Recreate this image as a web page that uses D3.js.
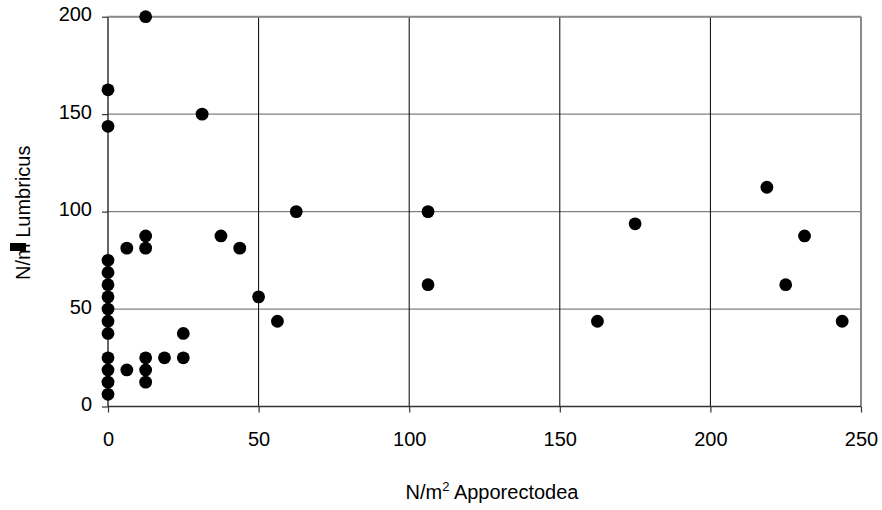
<!DOCTYPE html>
<html>
<head>
<meta charset="utf-8">
<script src="https://cdn.jsdelivr.net/npm/d3@7"></script>
<style>
  html, body { margin: 0; padding: 0; background: #fff; }
  svg { display: block; font-family: "Liberation Sans", Arial, sans-serif; }
</style>
</head>
<body>
<svg id="chart" width="882" height="510"></svg>
<script>
// Data: N/m² Apporectodea (x) vs N/m² Lumbricus (y)
const apporectodea = [
  0, 0, 0, 0, 0, 0, 0, 0, 0, 0, 0, 0, 0,
  6.25, 6.25,
  12.5, 12.5, 12.5, 12.5, 12.5, 12.5,
  18.75, 25, 25, 31.25, 37.5, 43.75, 50, 56.25, 62.5,
  106.25, 106.25, 162.5, 175, 218.75, 225, 231.25, 243.75
];
const lumbricus = [
  6.25, 12.5, 18.75, 25, 37.5, 43.75, 50, 56.25, 62.5, 68.75, 75, 143.75, 162.5,
  81.25, 18.75,
  200, 87.5, 81.25, 25, 18.75, 12.5,
  25, 37.5, 25, 150, 87.5, 81.25, 56.25, 43.75, 100,
  100, 62.5, 43.75, 93.75, 112.5, 62.5, 87.5, 43.75
];
const xTicks = [0, 50, 100, 150, 200, 250];
const yTicks = [0, 50, 100, 150, 200];
const xTitle = "N/m";
const xTitleSup = "2";
const xTitleRest = " Apporectodea";
const yTitle = "N/m";
const yTitleRest = " Lumbricus";

const svg = d3.select("#chart");
const x = d3.scaleLinear().domain([0, 250]).range([108, 861]);
const y = d3.scaleLinear().domain([0, 200]).range([406.5, 16.7]);

// horizontal gridlines (gray)
svg.append("g").selectAll("line").data(yTicks.filter(d => d > 0)).join("line")
  .attr("x1", x(0)).attr("x2", x(250))
  .attr("y1", d => y(d)).attr("y2", d => y(d))
  .attr("stroke", "#808080").attr("stroke-width", 1.3);

// vertical gridlines (black)
svg.append("g").selectAll("line").data(xTicks.filter(d => d > 0 && d < 250)).join("line")
  .attr("x1", d => x(d)).attr("x2", d => x(d))
  .attr("y1", y(0)).attr("y2", y(200))
  .attr("stroke", "#000").attr("stroke-width", 1);

// right border
svg.append("line")
  .attr("x1", x(250)).attr("x2", x(250)).attr("y1", y(0)).attr("y2", y(200))
  .attr("stroke", "#8a8a8a").attr("stroke-width", 2);

// axes
const xAxis = svg.append("g").attr("transform", `translate(0,${y(0)})`)
  .call(d3.axisBottom(x).tickValues(xTicks).tickSize(6).tickPadding(19).tickFormat(d3.format("d")));
const yAxis = svg.append("g").attr("transform", `translate(${x(0)},0)`)
  .call(d3.axisLeft(y).tickValues(yTicks).tickSize(6).tickPadding(10).tickFormat(d3.format("d")));

[xAxis, yAxis].forEach(g => {
  g.select(".domain").attr("stroke", "#333").attr("stroke-width", 1.5);
  g.selectAll(".tick line").attr("stroke", "#333").attr("stroke-width", 1.2);
  g.selectAll(".tick text").attr("font-size", 20).attr("fill", "#000")
    .attr("font-family", "'Liberation Sans', Arial, sans-serif");
});
yAxis.selectAll(".tick text").attr("dy", "0.2em");
yAxis.select(".domain").attr("d", `M0,${y(0)}V${y(200)}`);
xAxis.select(".domain").attr("d", `M${x(0)},0H${x(250)}`);

// top border (gray)
svg.append("line")
  .attr("x1", x(0)).attr("x2", x(250)).attr("y1", y(200)).attr("y2", y(200))
  .attr("stroke", "#8a8a8a").attr("stroke-width", 2);

// points
svg.append("g").selectAll("circle").data(apporectodea.map((d, i) => [d, lumbricus[i]])).join("circle")
  .attr("cx", d => x(d[0])).attr("cy", d => y(d[1])).attr("r", 6.4)
  .attr("fill", "#000");

// x title
const xt = svg.append("text")
  .attr("x", 492).attr("y", 499)
  .attr("text-anchor", "middle").attr("font-size", 20).attr("fill", "#000");
xt.append("tspan").text(xTitle);
xt.append("tspan").attr("dy", -8).attr("font-size", 13).text(xTitleSup);
xt.append("tspan").attr("dy", 8).text(xTitleRest);

// y title
const yg = svg.append("g").attr("transform", "rotate(-90)");
yg.append("text")
  .attr("x", -280).attr("y", 29.5)
  .attr("text-anchor", "start").attr("font-size", 20).attr("fill", "#000")
  .text(yTitle + yTitleRest);
yg.append("rect")
  .attr("x", -251).attr("y", 10).attr("width", 8).attr("height", 16)
  .attr("fill", "#000");
</script>
</body>
</html>
